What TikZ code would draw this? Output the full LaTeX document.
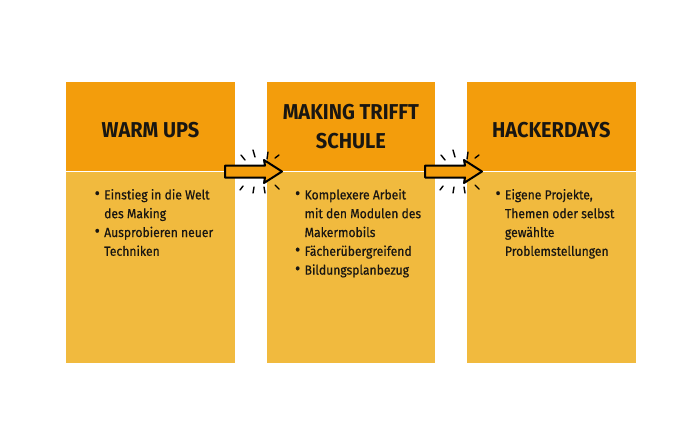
\documentclass[tikz,border=0pt]{standalone}
\usepackage{fontspec}
\setmainfont{Fira Sans}[FakeStretch=0.93]
\newfontfamily\listfont{Fira Sans}[FakeStretch=0.92,FakeBold=0.6]
\usetikzlibrary{positioning,calc}
\definecolor{headorange}{RGB}{243,157,12}
\definecolor{bodyorange}{RGB}{241,186,62}
\definecolor{textdark}{RGB}{25,22,18}
\tikzstyle{head} = [
inner sep=0pt,
minimum width=168.5pt,
minimum height=89pt,
fill=headorange,
align=center,
text=textdark,
font=\bfseries\fontsize{21.5}{29.5}\selectfont
]
\tikzstyle{body} = [
inner sep=0pt,
minimum width=168.5pt,
minimum height=191pt,
fill=bodyorange
]
\tikzstyle{list} = [
inner sep=0pt,
anchor=north west,
align=left,
text=textdark,
font=\listfont\fontsize{13.2}{18.8}\selectfont
]
\tikzstyle{spark} = [
line width=1.4pt,
line cap=round
]
\newcommand\bul{\makebox[9.5pt][l]{\raisebox{0.05ex}{\scalebox{1.3}{\textbullet}}}}
\newcommand\ind{\hspace*{9.5pt}}

\begin{document}
\begin{tikzpicture}[x=1pt,y=-1pt]
	\useasboundingbox[fill=white] (0,0) rectangle (700,445);
	
	\node[head,anchor=north west] (h1) at (66,82) {\raisebox{-3pt}[\height][\depth]{WARM UPS}};
	\node[head,right=31.5pt of h1] (h2) {MAKING TRIFFT\\SCHULE};
	\node[head,right=31.5pt of h2] (h3) {\raisebox{-3pt}[\height][\depth]{HACKERDAYS}};
	
	\node[body,below=0pt of h1] (b1) {};
	\node[body,below=0pt of h2] (b2) {};
	\node[body,below=0pt of h3] (b3) {};
	
	\node[list] (l1) at ($(b1.north west)+(28.5,17.5)$)
	{\bul Einstieg in die Welt\\\ind des Making\\\bul Ausprobieren neuer\\\ind Techniken};
	\node[list] (l2) at ($(b2.north west)+(28.5,17.5)$)
	{\bul Komplexere Arbeit\\\ind mit den Modulen des\\\ind Makermobils\\\bul Fächerübergreifend\\\bul Bildungsplanbezug};
	\node[list] (l3) at ($(b3.north west)+(28.5,17.5)$)
	{\bul Eigene Projekte,\\\ind Themen oder selbst\\\ind gewählte\\\ind Problemstellungen};
	
	% arrows between the boxes
	\foreach \dx in {0,200} {
		\begin{scope}[xshift=\dx pt]
			\draw[line width=2pt,line join=round,fill=headorange]
			(225,165.5) -- (265,165.5) -- (264,160) -- (282,171.5) -- (264,183) -- (265,177.5) -- (225,177.5) -- cycle;
			\draw[spark] (241,155) -- (245,160);
			\draw[spark] (253,150) -- (255,157);
			\draw[spark] (268,152) -- (267,159);
			\draw[spark] (275,158) -- (279,155);
			\draw[spark] (240,190) -- (243,186);
			\draw[spark] (253,193) -- (254,187);
			\draw[spark] (265,193) -- (264,187);
			\draw[spark] (275,185) -- (279,189);
		\end{scope}
	}
\end{tikzpicture}
\end{document}
